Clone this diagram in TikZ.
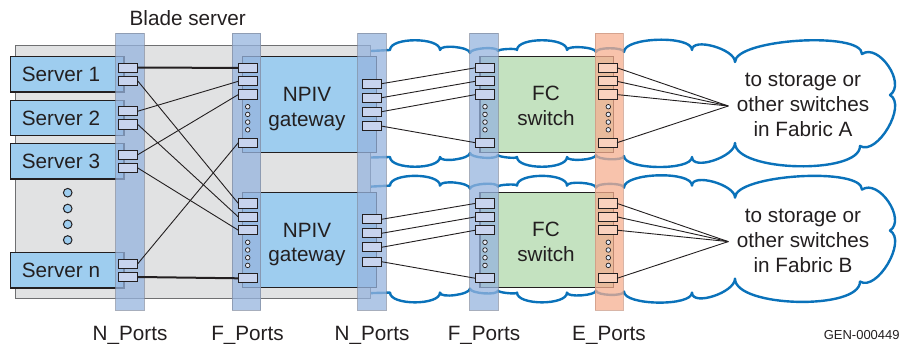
\documentclass[tikz,border=0pt]{standalone}
\usepackage{fontspec}
\setmainfont{Liberation Sans}
\definecolor{ink}{HTML}{231F20}
\definecolor{bladegray}{HTML}{E1E2E3}
\definecolor{bladeline}{HTML}{6F7072}
\definecolor{srvblue}{HTML}{9ECDEF}
\definecolor{stripblue}{RGB}{150,180,222}
\definecolor{stripline}{RGB}{130,140,160}
\definecolor{stripsalmon}{RGB}{246,175,144}
\definecolor{salmonline}{RGB}{200,150,130}
\definecolor{portblue}{RGB}{200,212,238}
\definecolor{portsalmon}{RGB}{250,210,190}
\definecolor{swgreen}{RGB}{196,226,192}
\definecolor{cloudblue}{RGB}{10,114,186}
\begin{document}
\begin{tikzpicture}[x=1pt,y=-1pt,
  every node/.style={inner sep=0pt, outer sep=0pt},
  lbl/.style={font=\fontsize{20.7}{24.8}\selectfont, text=ink, align=center},
  smalltxt/.style={font=\fontsize{13}{15}\selectfont, text=ink},
  port/.style={rectangle, draw=ink, line width=0.9pt, fill=portblue, minimum width=19pt, minimum height=9.3pt},
  eport/.style={port, fill=portsalmon},
  stripbox/.style={rectangle, fill=stripblue, fill opacity=0.75, draw=stripline, draw opacity=0.7, line width=0.8pt, minimum width=28.5pt, minimum height=276.5pt},
  estripbox/.style={stripbox, fill=stripsalmon, draw=salmonline},
  bladebox/.style={rectangle, fill=bladegray, draw=bladeline, line width=0.9pt, minimum width=354.5pt, minimum height=253pt},
  srvbox/.style={rectangle, fill=srvblue, draw=ink, line width=1.2pt, minimum width=113.3pt, minimum height=35.3pt},
  gwbox/.style={rectangle, fill=srvblue, draw=ink, line width=1.1pt, minimum width=134.4pt, minimum height=95.6pt},
  swbox/.style={rectangle, fill=swgreen, draw=ink, line width=1.1pt, minimum width=133.3pt, minimum height=95.6pt},
  cloudline/.style={draw=cloudblue, line width=2.4pt, fill=white, line join=round},
  wire/.style={draw=ink, line width=0.9pt},
  thickwire/.style={draw=ink, line width=2pt},
  pdot/.style={circle, draw=ink, line width=0.7pt, fill=portblue!50, minimum size=4.6pt},
  sdot/.style={circle, draw=ink, line width=1pt, fill=srvblue, minimum size=8.6pt},
]
\useasboundingbox (0,0) rectangle (901,344);

% clouds
\foreach \dy in {0,135.6}{
\begin{scope}[shift={(0,\dy)}]
\path[cloudline] (352,52) -- (390,50)
 .. controls +(0,-13) and +(0,-13) .. (440,50)
 .. controls +(0,-6) and +(0,-6) .. (470,53)
 .. controls +(0,-5) and +(0,-5) .. (498,51)
 .. controls +(0,-2) and +(0,-2) .. (517,50)
 .. controls +(0,-13) and +(0,-13) .. (567,50)
 .. controls +(0,-5) and +(0,-5) .. (596,52)
 .. controls +(0,-5) and +(0,-5) .. (624,52)
 .. controls +(0,-15) and +(0,-15) .. (692,50)
 .. controls +(0,-13) and +(0,-13) .. (735,62)
 .. controls +(0,-23) and +(0,-23) .. (862,54)
 .. controls +(16.5,-11.3) and +(16.5,-11.3) .. (890,95)
 .. controls +(17.2,10.1) and +(17.2,10.1) .. (860,146)
 .. controls +(0,29) and +(0,29) .. (735,143)
 .. controls +(0,14) and +(0,14) .. (692,157)
 .. controls +(0,14) and +(0,14) .. (624,156)
 .. controls +(0,5) and +(0,5) .. (596,155)
 .. controls +(0,5) and +(0,5) .. (567,157)
 .. controls +(0,13) and +(0,13) .. (517,157)
 .. controls +(0,2) and +(0,2) .. (498,155)
 .. controls +(0,5) and +(0,5) .. (470,153)
 .. controls +(0,6) and +(0,6) .. (440,157)
 .. controls +(0,13) and +(0,13) .. (390,157)
 -- (352,158) -- cycle;
\end{scope}}

% blade server chassis
\node[bladebox] (blade) at (192.75,171.5) {};

% servers
\foreach \s/\t in {1/56.7,2/100.2,3/143.7,n/252.7}{
  \node[srvbox] (srv\s) at (67.35,\t+17.65) {};
}

% gateways and switches
\foreach \f/\dy in {A/0,B/135.6}{
  \begin{scope}[shift={(0,\dy)}]
    \node[gwbox] (gw\f) at (309.5,104.5) {};
    \node[swbox] (sw\f) at (546.65,104.5) {};
  \end{scope}
}

% port strips
\node[stripbox] (stripN1) at (129.85,171.75) {};
\node[stripbox] (stripF1) at (246.5,171.75) {};
\node[stripbox] (stripN2) at (371.85,171.75) {};
\node[stripbox] (stripF2) at (483.9,171.75) {};
\node[estripbox] (stripE) at (609.15,171.75) {};

% server ports
\foreach \s/\t in {1/56.7,2/100.2,3/143.7,n/252.7}{
  \node[port] (spa\s) at (128.3,\t+11) {};
  \node[port] (spb\s) at (128.3,\t+24.3) {};
}

% server dots
\foreach \i/\y in {1/192.7,2/208.5,3/224.3,4/240}{
  \node[sdot] (sd\i) at (67.7,\y) {};
}

% fabric ports
\foreach \f/\dy in {A/0,B/135.6}{
  \begin{scope}[shift={(0,\dy)}]
    \foreach \i/\o in {1/11.1,2/24.6,3/37.9,4/86}{
      \node[port] (g\f f\i) at (247.8,56.7+\o) {};
      \node[port] (s\f f\i) at (485,56.7+\o) {};
      \node[eport] (s\f e\i) at (607.5,56.7+\o) {};
    }
    \foreach \i/\o in {1/27,2/41,3/55,4/69.4}{
      \node[port] (g\f n\i) at (372,56.7+\o) {};
    }
    \foreach \i/\o in {1/50,2/57.7,3/65.4,4/73.1}{
      \node[pdot] (g\f d\i) at (247.7,56.7+\o) {};
      \node[pdot] (s\f d\i) at (485,56.7+\o) {};
      \node[pdot] (s\f x\i) at (608.3,56.7+\o) {};
    }
    \coordinate (fan\f) at (728.3,106);
  \end{scope}
}

% server to gateway wiring
\draw[thickwire] (spa1.east) -- (gAf1.west);
\draw[wire] (spb1.east) -- (gBf1.west);
\draw[wire] (spa2.east) -- (gAf2.west);
\draw[wire] (spb2.east) -- (gBf2.west);
\draw[wire] (spa3.east) -- (gAf3.west);
\draw[wire] (spb3.east) -- (gBf3.west);
\draw[wire] (span.east) -- (gAf4.west);
\draw[thickwire] (spbn.east) -- (gBf4.west);

% gateway to switch and switch to fabric
\foreach \f in {A,B}{
  \foreach \i in {1,2,3,4}{
    \draw[wire] (g\f n\i.east) -- (s\f f\i.west);
    \draw[wire] (s\f e\i.east) -- (fan\f);
  }
}

% texts
\node[lbl, anchor=base] (title) at (187.7,25.7) {Blade server};
\foreach \s/\t in {1/56.7,2/100.2,3/143.7,n/252.7}{
  \node[lbl, anchor=base] (srvt\s) at (61,\t+25) {Server \s};
}
\foreach \f/\dy in {A/0,B/135.6}{
  \begin{scope}[shift={(0,\dy)}]
    \node[lbl, anchor=base] (gwt\f) at (307,126.3) {NPIV\\gateway};
    \node[lbl, anchor=base] (swt\f) at (546,125.8) {FC\\switch};
    \node[lbl, anchor=base] (ct\f) at (803,136.5) {to storage or\\other switches\\in Fabric \f};
  \end{scope}
}
\node[lbl, anchor=base] (lN1) at (130,340) {N\_Ports};
\node[lbl, anchor=base] (lF1) at (247.5,340) {F\_Ports};
\node[lbl, anchor=base] (lN2) at (372,340) {N\_Ports};
\node[lbl, anchor=base] (lF2) at (484,340) {F\_Ports};
\node[lbl, anchor=base] (lE) at (609,340) {E\_Ports};
\node[smalltxt, anchor=base] (gen) at (861.7,339.3) {GEN-000449};
\end{tikzpicture}
\end{document}
